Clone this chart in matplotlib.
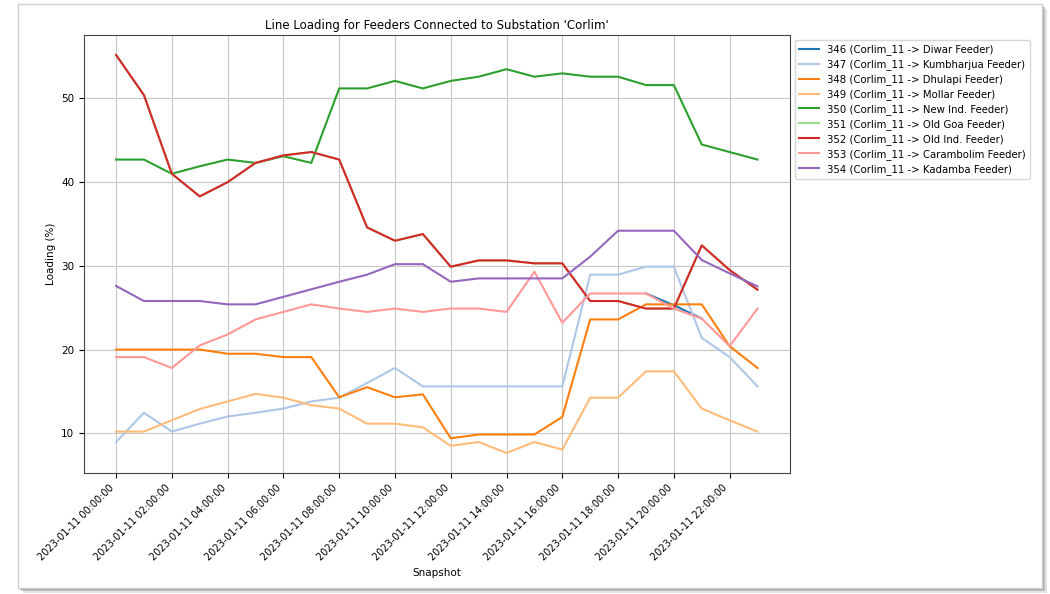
import matplotlib
matplotlib.use("Agg")
import matplotlib.pyplot as plt
from matplotlib.patches import Rectangle

nan = float("nan")

# snapshots (hourly) and feeder names
snapshots = ["2023-01-11 %02d:00:00" % h for h in range(24)]
feeders = [
    "346 (Corlim_11 -> Diwar Feeder)",
    "347 (Corlim_11 -> Kumbharjua Feeder)",
    "348 (Corlim_11 -> Dhulapi Feeder)",
    "349 (Corlim_11 -> Mollar Feeder)",
    "350 (Corlim_11 -> New Ind. Feeder)",
    "351 (Corlim_11 -> Old Goa Feeder)",
    "352 (Corlim_11 -> Old Ind. Feeder)",
    "353 (Corlim_11 -> Carambolim Feeder)",
    "354 (Corlim_11 -> Kadamba Feeder)",
]

# loading (%) (diwar only shows where it leaves the carambolim line)
diwar = [nan, nan, nan, nan, nan, nan, nan, nan, nan, nan, nan, nan,
         nan, nan, nan, nan, nan, nan, nan, 26.7, 25.3, 23.7, nan, nan]
kumbharjua = [8.95, 12.45, 10.2, 11.15, 12.0, 12.45, 12.95, 13.8, 14.25, 16.0, 17.8, 15.6,
              15.6, 15.6, 15.6, 15.6, 15.6, 28.95, 28.95, 29.9, 29.9, 21.4, 19.1, 15.6]
dhulapi = [20.0, 20.0, 20.0, 20.0, 19.5, 19.5, 19.1, 19.1, 14.3, 15.5, 14.3, 14.65,
           9.4, 9.85, 9.85, 9.85, 11.95, 23.6, 23.6, 25.4, 25.4, 25.4, 20.4, 17.8]
mollar = [10.2, 10.2, 11.55, 12.9, 13.8, 14.7, 14.25, 13.35, 12.95, 11.15, 11.15, 10.7,
          8.5, 8.95, 7.65, 8.95, 8.05, 14.25, 14.25, 17.4, 17.4, 12.95, 11.55, 10.2]
new_ind = [42.7, 42.7, 41.0, 41.9, 42.7, 42.3, 43.1, 42.3, 51.2, 51.2, 52.1, 51.2,
           52.1, 52.6, 53.5, 52.6, 53.0, 52.6, 52.6, 51.6, 51.6, 44.5, 43.6, 42.7]
old_goa = [55.2, 50.4, 41.0, 38.3, 40.0, 42.3, 43.2, 43.6, 42.7, 34.6, 33.0, 33.8,
           29.9, 30.65, 30.65, 30.3, 30.3, 25.8, 25.8, 24.9, 24.9, 32.45, 29.5, 27.15]
old_ind = [55.2, 50.4, 41.0, 38.3, 40.0, 42.3, 43.2, 43.6, 42.7, 34.6, 33.0, 33.8,
           29.9, 30.65, 30.65, 30.3, 30.3, 25.8, 25.8, 24.9, 24.9, 32.45, 29.5, 27.15]
carambolim = [19.1, 19.1, 17.8, 20.5, 21.8, 23.6, 24.5, 25.4, 24.9, 24.5, 24.9, 24.5,
              24.9, 24.9, 24.5, 29.3, 23.2, 26.7, 26.7, 26.7, 24.9, 23.7, 20.4, 24.9]
kadamba = [27.6, 25.8, 25.8, 25.8, 25.4, 25.4, 26.3, 27.2, 28.1, 28.95, 30.2, 30.2,
           28.1, 28.5, 28.5, 28.5, 28.5, 31.1, 34.2, 34.2, 34.2, 30.7, 29.1, 27.55]

series = [diwar, kumbharjua, dhulapi, mollar, new_ind, old_goa, old_ind, carambolim, kadamba]
colors = plt.get_cmap("tab20").colors[:9]

fig = plt.figure(figsize=(10.5, 5.94), dpi=100)
ax = fig.add_axes([0.080, 0.204, 0.672, 0.737])

for name, vals, c in zip(feeders, series, colors):
    ax.plot(snapshots, vals, label=name, color=c, linewidth=1.5)

ax.set_title("Line Loading for Feeders Connected to Substation 'Corlim'", fontsize=8.5, pad=4)
ax.set_xlabel("Snapshot", fontsize=7.5)
ax.set_ylabel("Loading (%)", fontsize=7.5)
ax.set_xticks(range(0, 24, 2))
ax.set_xticklabels(snapshots[::2], rotation=45, ha="right", fontsize=7)
ax.tick_params(axis="y", labelsize=7.5)
ax.set_yticks([10, 20, 30, 40, 50])
ax.grid(True, color="#c8c8c8")
for s in ax.spines.values():
    s.set_edgecolor("#444444")
ax.legend(loc="upper left", bbox_to_anchor=(1.0, 1.0), fontsize=7.3, labelspacing=0.4)

# screenshot frame with a soft drop shadow
tr = fig.transFigure
W, H = 1050.0, 594.0
for off, a in [(5, 0.25), (3, 0.35), (1.5, 0.45)]:
    fig.patches.append(Rectangle((18 / W + off / W, 1 - (588 + off) / H), 1024 / W, 584 / H,
                                 transform=tr, facecolor="#888888", edgecolor="none",
                                 alpha=a, zorder=-3))
fig.patches.append(Rectangle((18 / W, 1 - 588 / H), 1024 / W, 584 / H, transform=tr,
                             facecolor="white", edgecolor="#d0d0d0", linewidth=1, zorder=-2))

fig.savefig("out.png", dpi=100)
